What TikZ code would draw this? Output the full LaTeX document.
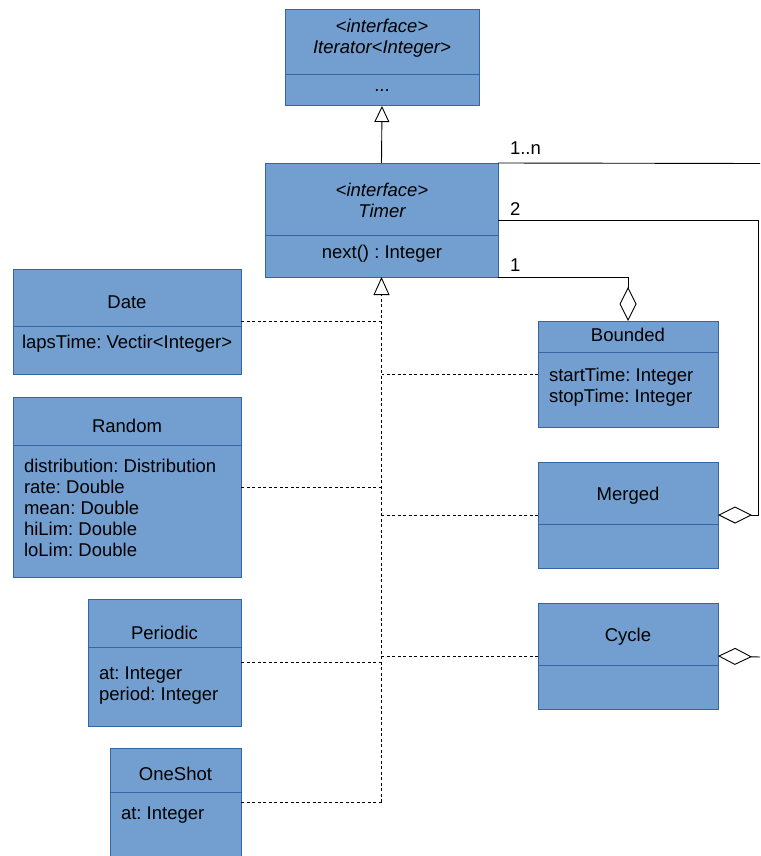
\documentclass[tikz,border=0pt]{standalone}
\usepackage{fontspec}
\setmainfont{Liberation Sans}
\usetikzlibrary{arrows.meta}
\definecolor{boxfill}{RGB}{114,159,207}
\definecolor{boxline}{RGB}{52,101,164}
\frenchspacing
\begin{document}
\begin{tikzpicture}[x=1pt,y=-1pt,
  every node/.style={font=\fontsize{18.5}{21}\selectfont\frenchspacing, inner sep=0pt, outer sep=0pt},
  cls/.style={draw=boxline, fill=boxfill, line width=1pt},
  divider/.style={draw=boxline, line width=1pt},
  txt/.style={align=center, text=black},
  attr/.style={align=left, anchor=north west, text=black},
  dep/.style={draw=black, line width=0.9pt, dash pattern=on 3pt off 2.5pt},
  gen/.style={-{Triangle[open, length=16pt, width=15pt]}, line width=0.9pt},
  agg/.style={-{Diamond[open, length=34pt, width=17pt]}, line width=0.9pt},
  mult/.style={anchor=base west, text=black}
]
\useasboundingbox (0,0) rectangle (760,856);

% classes
\node[cls, minimum width=194, minimum height=96] (iter) at (382,58) {};
\draw[divider] (iter.west |- 0,75) -- (iter.east |- 0,75);
\node[txt] (itert) at (382,38) {\itshape <interface>\\\itshape Iterator<Integer>};
\node[txt] (iterm) at (382,91) {...};

\node[cls, minimum width=233, minimum height=114] (timer) at (381.5,220) {};
\draw[divider] (timer.west |- 0,235) -- (timer.east |- 0,235);
\node[txt] (timert) at (382,200) {\itshape <interface>\\\itshape Timer};
\node[txt] (timerm) at (382,254) {next() : Integer};

\node[cls, minimum width=228, minimum height=105] (date) at (127,321.5) {};
\draw[divider] (date.west |- 0,326) -- (date.east |- 0,326);
\node[txt] (datet) at (127,302) {Date};
\node[attr] (datea) at (22,335) {lapsTime: Vectir<Integer>};

\node[cls, minimum width=228, minimum height=180] (random) at (127,487) {};
\draw[divider] (random.west |- 0,445) -- (random.east |- 0,445);
\node[txt] (randomt) at (127,426) {Random};
\node[attr] (randoma) at (24,459) {distribution: Distribution\\rate: Double\\mean: Double\\hiLim: Double\\loLim: Double};

\node[cls, minimum width=153, minimum height=127] (periodic) at (164.5,662.5) {};
\draw[divider] (periodic.west |- 0,647) -- (periodic.east |- 0,647);
\node[txt] (periodict) at (164.5,633) {Periodic};
\node[attr] (periodica) at (99,667) {at: Integer\\period: Integer};

\node[cls, minimum width=131, minimum height=108] (oneshot) at (175.5,802) {};
\draw[divider] (oneshot.west |- 0,792) -- (oneshot.east |- 0,792);
\node[txt] (oneshott) at (175.5,774) {OneShot};
\node[attr] (oneshota) at (121,807) {at: Integer};

\node[cls, minimum width=180, minimum height=106] (bounded) at (628,374) {};
\draw[divider] (bounded.west |- 0,352) -- (bounded.east |- 0,352);
\node[txt] (boundedt) at (628,335) {Bounded};
\node[attr] (boundeda) at (549,368) {startTime: Integer\\stopTime: Integer};

\node[cls, minimum width=180, minimum height=106] (merged) at (628,515) {};
\draw[divider] (merged.west |- 0,524) -- (merged.east |- 0,524);
\node[txt] (mergedt) at (628,496) {Merged};

\node[cls, minimum width=180, minimum height=106] (cycle) at (628,656) {};
\draw[divider] (cycle.west |- 0,665) -- (cycle.east |- 0,665);
\node[txt] (cyclet) at (628,637) {Cycle};

% generalization Timer -> Iterator
\draw[gen] (timer.north) -- (iter.south);

% realization / dependency lines
\coordinate (jct) at (timer.south |- oneshot.east);
\draw[dep] (oneshot.east) -- (jct);
\draw[dep, -{Triangle[open, length=18pt, width=16pt]}] (jct) -- (timer.south);
\draw[dep] (date.east) -- (date.east -| timer.south);
\draw[dep] (random.east) -- (random.east -| timer.south);
\draw[dep] (periodic.east) -- (periodic.east -| timer.south);
\draw[dep] (bounded.west) -- (bounded.west -| timer.south);
\draw[dep] (merged.west) -- (merged.west -| timer.south);
\draw[dep] (cycle.west) -- (cycle.west -| timer.south);

% associations
\coordinate (rtop) at (760,163.5);
\draw[line width=0.9pt] (timer.north east) -- (rtop);
\node[mult] (m1n) at (510,154) {1..n};

\coordinate (r2) at (758,220.5);
\draw[agg] (timer.east |- r2) -- (r2) |- (merged.east);
\node[mult] (m2) at (510,215) {2};

\coordinate (r1) at (628,277);
\draw[agg] (timer.south east) -- (r1) -- (bounded.north);
\node[mult] (m1) at (510,271) {1};

\coordinate (rcyc) at (760,657);
\draw[agg] (rcyc) -- (cycle.east);
\end{tikzpicture}
\end{document}
